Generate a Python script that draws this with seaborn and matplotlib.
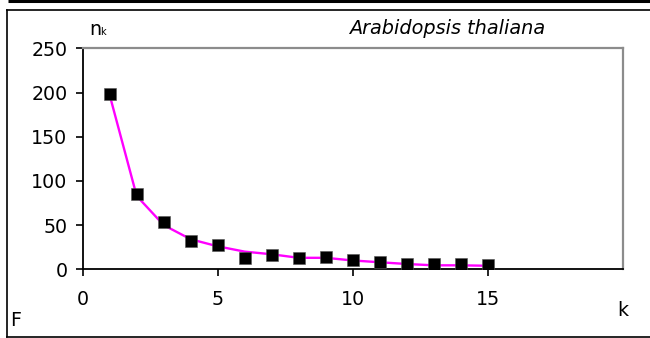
import matplotlib
matplotlib.use("Agg")
import matplotlib.pyplot as plt
from matplotlib.lines import Line2D
import seaborn as sns
import pandas as pd

# Observed counts n_k for each k
k_values = [1, 2, 3, 4, 5, 6, 7, 8, 9, 10, 11, 12, 13, 14, 15]
n_observed = [198, 85, 54, 32, 27, 13, 16, 13, 14, 11, 8, 6, 6, 6, 5]

# Fitted curve values at the same k
n_fitted = [197, 83, 50, 34, 26, 20, 17, 13, 13, 10, 8, 6, 4.5, 4.5, 4]

x_ticks = [0, 5, 10, 15]
y_ticks = [0, 50, 100, 150, 200, 250]

sns.set_theme(style="white")
plt.rcParams["font.family"] = ["DejaVu Sans"]
plt.rcParams["text.color"] = "black"

W, H = 650, 338
fig = plt.figure(figsize=(W / 100, H / 100), dpi=100)
fig.patch.set_facecolor("white")

ax = fig.add_axes([82.7 / W, 1 - 269.3 / H, (622.5 - 82.7) / W, (269.3 - 48.3) / H])
ax.set_facecolor("white")

df_obs = pd.DataFrame({"k": k_values, "n": n_observed})
df_fit = pd.DataFrame({"k": k_values, "n": n_fitted})

sns.lineplot(data=df_fit, x="k", y="n", ax=ax, color="#FF00FF", linewidth=1.7, zorder=2)
sns.scatterplot(data=df_obs, x="k", y="n", ax=ax, marker="s", s=66, color="black",
                edgecolor="#555555", linewidth=0.4, zorder=3)

ax.set_xlim(0, 20)
ax.set_ylim(0, 250)
ax.set_xticks(x_ticks)
ax.set_yticks(y_ticks)
ax.set_xlabel("")
ax.set_ylabel("")
ax.tick_params(axis="both", which="major", labelsize=13.7, colors="black",
               direction="out", length=5, width=1.2, left=True, bottom=True)
ax.tick_params(axis="x", pad=10)
ax.tick_params(axis="y", pad=6)

for side in ("left", "bottom"):
    ax.spines[side].set_color("black")
    ax.spines[side].set_linewidth(1.3)
for side in ("top", "right"):
    ax.spines[side].set_color("#8c8c8c")
    ax.spines[side].set_linewidth(1.6)
for sp in ax.spines.values():
    sp.set_visible(True)

# Axis labels placed around the plot
fig.text(89 / W, 1 - 35 / H, "n", fontsize=13.7, ha="left", va="baseline", color="black")
fig.text(100.5 / W, 1 - 35 / H, "k", fontsize=7, ha="left", va="baseline", color="black")
fig.text(447 / W, 1 - 28 / H, "Arabidopsis thaliana", fontsize=13.9, style="italic",
         ha="center", va="center", color="black")
fig.text(622.5 / W, 1 - 310 / H, "k", fontsize=13.7, ha="center", va="center", color="black")
fig.text(16 / W, 1 - 321 / H, "F", fontsize=13.7, ha="center", va="center", color="black")

# Frame around the panel
def hline(y, x0, x1, lw):
    fig.add_artist(Line2D([x0 / W, x1 / W], [1 - y / H, 1 - y / H], color="black",
                          linewidth=lw, transform=fig.transFigure, solid_capstyle="butt"))

hline(1.3, 8, W, 2.2)
hline(10, 6, W, 1.2)
hline(337, 6, W, 1.2)
fig.add_artist(Line2D([7 / W, 7 / W], [1 - 10 / H, 1 - 337 / H], color="black",
                      linewidth=1.2, transform=fig.transFigure))

fig.savefig("out.png", dpi=100, facecolor="white")
